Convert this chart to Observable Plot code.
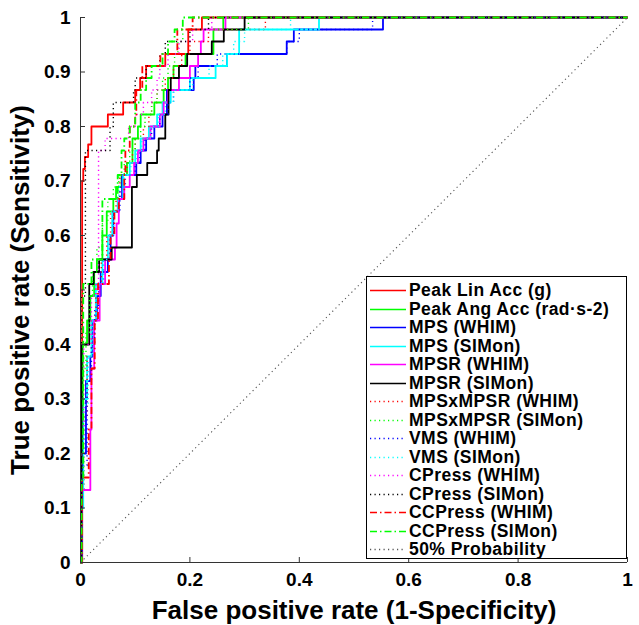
<!DOCTYPE html>
<html><head><meta charset="utf-8">
<script src="https://cdn.jsdelivr.net/npm/d3@7"></script>
<script src="https://cdn.jsdelivr.net/npm/@observablehq/plot@0.6"></script>
<style>
body{margin:0;background:#fff;}
#wrap{position:relative;width:639px;height:625px;font-family:"Liberation Sans",Arial,Helvetica,sans-serif;font-weight:bold;}
#legend{position:absolute;left:366px;top:276px;width:261px;height:283px;border:1px solid #000;background:#fff;box-sizing:border-box;}
.row{position:absolute;left:0;width:258px;height:18.5px;}
.row svg{position:absolute;left:3px;top:0;}
.row span{position:absolute;left:42px;top:0;line-height:18.5px;font-size:17.5px;letter-spacing:0.45px;white-space:nowrap;color:#000;}
</style></head>
<body><div id="wrap"></div>
<script>
// ---- data (x = false positive rate, y = true positive rate) ----
const seriesNames = ["Peak Lin Acc (g)","Peak Ang Acc (rad\u00b7s-2)","MPS (WHIM)","MPS (SIMon)","MPSR (WHIM)","MPSR (SIMon)","MPSxMPSR (WHIM)","MPSxMPSR (SIMon)","VMS (WHIM)","VMS (SIMon)","CPress (WHIM)","CPress (SIMon)","CCPress (WHIM)","CCPress (SIMon)","50% Probability"];

const peakLinAcc = [[0,0],[0.003,0.70],[0.005,0.722],[0.008,0.744],[0.014,0.767],[0.02,0.80],[0.05,0.822],[0.078,0.844],[0.1,0.867],[0.109,0.889],[0.12,0.911],[0.155,0.933],[0.197,0.978],[0.222,1],[1,1]];
const peakAngAcc = [[0,0],[0.002,0.2],[0.004,0.4],[0.012,0.444],[0.018,0.489],[0.025,0.533],[0.03,0.556],[0.04,0.6],[0.048,0.644],[0.06,0.667],[0.065,0.689],[0.075,0.711],[0.085,0.733],[0.095,0.778],[0.105,0.80],[0.11,0.822],[0.135,0.844],[0.152,0.867],[0.16,0.889],[0.17,0.911],[0.192,0.933],[0.243,0.978],[0.261,1],[1,1]];
const mpsWhim = [[0,0],[0.003,0.2],[0.01,0.333],[0.018,0.378],[0.022,0.444],[0.03,0.489],[0.037,0.533],[0.05,0.556],[0.055,0.6],[0.06,0.644],[0.07,0.667],[0.076,0.711],[0.102,0.733],[0.11,0.756],[0.12,0.778],[0.135,0.80],[0.15,0.822],[0.158,0.867],[0.207,0.889],[0.21,0.911],[0.268,0.933],[0.377,0.956],[0.39,0.978],[0.553,1],[1,1]];
const mpsSimon = [[0,0],[0.002,0.1],[0.005,0.3],[0.012,0.378],[0.02,0.444],[0.028,0.511],[0.04,0.556],[0.05,0.6],[0.058,0.644],[0.068,0.667],[0.078,0.711],[0.09,0.733],[0.1,0.756],[0.11,0.778],[0.125,0.80],[0.14,0.822],[0.15,0.844],[0.165,0.867],[0.2,0.889],[0.247,0.911],[0.268,0.933],[0.29,0.978],[0.436,1],[1,1]];
const mpsrWhim = [[0,0],[0.003,0.133],[0.018,0.244],[0.02,0.356],[0.025,0.444],[0.035,0.511],[0.045,0.556],[0.063,0.578],[0.066,0.622],[0.07,0.667],[0.08,0.689],[0.09,0.711],[0.098,0.733],[0.105,0.756],[0.115,0.778],[0.128,0.80],[0.145,0.822],[0.152,0.844],[0.16,0.867],[0.18,0.889],[0.2,0.911],[0.215,0.933],[0.22,0.956],[0.225,0.978],[0.265,1],[1,1]];
const mpsrSimon = [[0,0],[0.002,0.4],[0.016,0.511],[0.024,0.533],[0.034,0.556],[0.057,0.578],[0.094,0.689],[0.103,0.711],[0.122,0.733],[0.14,0.756],[0.143,0.778],[0.155,0.822],[0.161,0.867],[0.165,0.889],[0.18,0.911],[0.195,0.933],[0.24,0.956],[0.262,0.978],[0.30,1],[1,1]];
const mpsxWhim = [[0,0],[0.002,0.133],[0.006,0.267],[0.012,0.378],[0.02,0.444],[0.028,0.511],[0.038,0.556],[0.048,0.6],[0.055,0.644],[0.065,0.667],[0.072,0.711],[0.085,0.733],[0.095,0.756],[0.1,0.778],[0.115,0.80],[0.125,0.822],[0.13,0.844],[0.14,0.867],[0.155,0.889],[0.17,0.911],[0.185,0.933],[0.2,0.956],[0.234,0.978],[0.338,1],[1,1]];
const mpsxSimon = [[0,0],[0.002,0.2],[0.005,0.356],[0.01,0.422],[0.016,0.489],[0.022,0.533],[0.03,0.578],[0.04,0.622],[0.05,0.667],[0.06,0.689],[0.07,0.711],[0.08,0.733],[0.09,0.756],[0.1,0.778],[0.11,0.80],[0.118,0.822],[0.13,0.844],[0.14,0.867],[0.15,0.889],[0.16,0.911],[0.172,0.933],[0.178,0.956],[0.187,0.978],[0.307,1],[1,1]];
const vmsWhim = [[0,0],[0.003,0.178],[0.012,0.333],[0.02,0.4],[0.026,0.467],[0.033,0.511],[0.042,0.556],[0.053,0.6],[0.06,0.644],[0.072,0.689],[0.082,0.711],[0.1,0.733],[0.108,0.756],[0.118,0.778],[0.13,0.80],[0.145,0.822],[0.16,0.844],[0.17,0.867],[0.2,0.889],[0.215,0.911],[0.25,0.933],[0.377,0.956],[0.4,0.978],[0.534,1],[1,1]];
const vmsSimon = [[0,0],[0.002,0.133],[0.006,0.289],[0.014,0.378],[0.022,0.444],[0.03,0.511],[0.042,0.556],[0.052,0.6],[0.06,0.644],[0.07,0.689],[0.08,0.711],[0.092,0.733],[0.102,0.756],[0.112,0.778],[0.128,0.80],[0.142,0.822],[0.155,0.844],[0.17,0.867],[0.205,0.889],[0.235,0.911],[0.26,0.933],[0.28,0.956],[0.3,0.978],[0.384,1],[1,1]];
const cpressWhim = [[0,0],[0.002,0.2],[0.006,0.4],[0.02,0.489],[0.028,0.511],[0.033,0.756],[0.045,0.778],[0.088,0.80],[0.1,0.822],[0.115,0.844],[0.13,0.867],[0.14,0.889],[0.145,0.911],[0.16,0.933],[0.18,0.956],[0.205,0.978],[0.24,1],[1,1]];
const cpressSimon = [[0,0],[0.002,0.489],[0.009,0.756],[0.054,0.80],[0.06,0.844],[0.097,0.867],[0.1,0.889],[0.12,0.911],[0.145,0.933],[0.155,0.956],[0.2,0.978],[0.234,1],[1,1]];
const ccpressWhim = [[0,0],[0.003,0.156],[0.015,0.244],[0.02,0.356],[0.026,0.444],[0.032,0.511],[0.052,0.556],[0.055,0.6],[0.062,0.644],[0.07,0.667],[0.08,0.711],[0.082,0.756],[0.09,0.80],[0.1,0.822],[0.102,0.867],[0.113,0.911],[0.146,0.933],[0.177,0.978],[0.205,1],[1,1]];
const ccpressSimon = [[0,0],[0.002,0.156],[0.005,0.511],[0.02,0.556],[0.04,0.667],[0.068,0.711],[0.075,0.756],[0.08,0.778],[0.09,0.80],[0.1,0.844],[0.11,0.867],[0.12,0.889],[0.13,0.911],[0.15,0.933],[0.16,0.956],[0.172,0.978],[0.187,1],[1,1]];
const chanceLine = [[0,0],[1,1]];

const xTicks = [0,0.2,0.4,0.6,0.8,1];
const yTicks = [0,0.1,0.2,0.3,0.4,0.5,0.6,0.7,0.8,0.9,1];

// ---- styles ----
const DOT = "1.2,3.3", DASHDOT = "7,3,1.5,3";
const series = [
  {data: peakLinAcc, color:"#ff0000", dash:null, w:1.8},
  {data: peakAngAcc, color:"#00ff00", dash:null, w:1.8},
  {data: mpsWhim, color:"#0000ff", dash:null, w:1.8},
  {data: mpsSimon, color:"#00ffff", dash:null, w:1.8},
  {data: mpsrWhim, color:"#ff00ff", dash:null, w:1.8},
  {data: mpsrSimon, color:"#000000", dash:null, w:1.8},
  {data: mpsxWhim, color:"#ff0000", dash:DOT, w:1.4},
  {data: mpsxSimon, color:"#00ff00", dash:DOT, w:1.4},
  {data: vmsWhim, color:"#0000ff", dash:DOT, w:1.4},
  {data: vmsSimon, color:"#00ffff", dash:DOT, w:1.4},
  {data: cpressWhim, color:"#ff00ff", dash:DOT, w:1.4},
  {data: cpressSimon, color:"#000000", dash:DOT, w:1.4},
  {data: ccpressWhim, color:"#ff0000", dash:DASHDOT, w:1.8},
  {data: ccpressSimon, color:"#00ff00", dash:DASHDOT, w:1.8},
  {data: chanceLine, color:"#555555", dash:DOT, w:1.1}
];

const fmt = d => String(+d.toFixed(1));
const marks = [];
series.forEach((s, i) => {
  marks.push(Plot.line(s.data, {x: d => d[0], y: d => d[1], curve: i === series.length - 1 ? "linear" : "step-after",
    stroke: s.color, strokeWidth: s.w, strokeDasharray: s.dash, strokeLinecap: "butt"}));
});
marks.push(Plot.ruleX([0], {stroke: "#333", strokeWidth: 1}));
marks.push(Plot.ruleY([0], {stroke: "#333", strokeWidth: 1}));
marks.push(Plot.axisX(xTicks, {tickSize: 5, tickPadding: 5, fontSize: 19, tickFormat: fmt, label: "False positive rate (1-Specificity)", labelAnchor: "center", labelOffset: 56, labelArrow: "none"}));
marks.push(Plot.axisY(yTicks, {tickSize: 5, tickPadding: 5, fontSize: 19, tickFormat: fmt, label: "True positive rate (Sensitivity)", labelAnchor: "center", labelOffset: 70, labelArrow: "none"}));

const chart = Plot.plot({
  width: 639, height: 625,
  marginLeft: 80, marginRight: 12, marginTop: 17, marginBottom: 63,
  x: {domain: [0, 1]}, y: {domain: [0, 1]},
  style: {fontFamily: '"Liberation Sans", Arial, sans-serif', fontWeight: "bold", fontSize: "19px", color: "#000", background: "#fff", overflow: "visible"},
  marks
});
document.getElementById("wrap").appendChild(chart);

// inward ticks (MATLAB style)
const svg = d3.select(chart);
svg.selectAll('g[aria-label="x-axis tick"] path').attr("d", "M0,0L0,-5").attr("stroke", "#333");
svg.selectAll('g[aria-label="y-axis tick"] path').attr("d", "M0,0L5,0").attr("stroke", "#333");
svg.selectAll('g[aria-label="x-axis label"] text, g[aria-label="y-axis label"] text').style("font-size", "26px");

// legend
const legend = document.createElement("div");
legend.id = "legend";
series.forEach((s, i) => {
  const row = document.createElement("div");
  row.className = "row";
  row.style.top = (4 + i * 18.5) + "px";
  row.innerHTML = `<svg width="36" height="18.5"><line x1="0" x2="36" y1="9.5" y2="9.5" stroke="${s.color}" stroke-width="${s.dash ? 1.3 : 1.6}" ${s.dash ? `stroke-dasharray="${s.dash}"` : ""}/></svg><span>${seriesNames[i]}</span>`;
  legend.appendChild(row);
});
document.getElementById("wrap").appendChild(legend);
</script></body></html>
